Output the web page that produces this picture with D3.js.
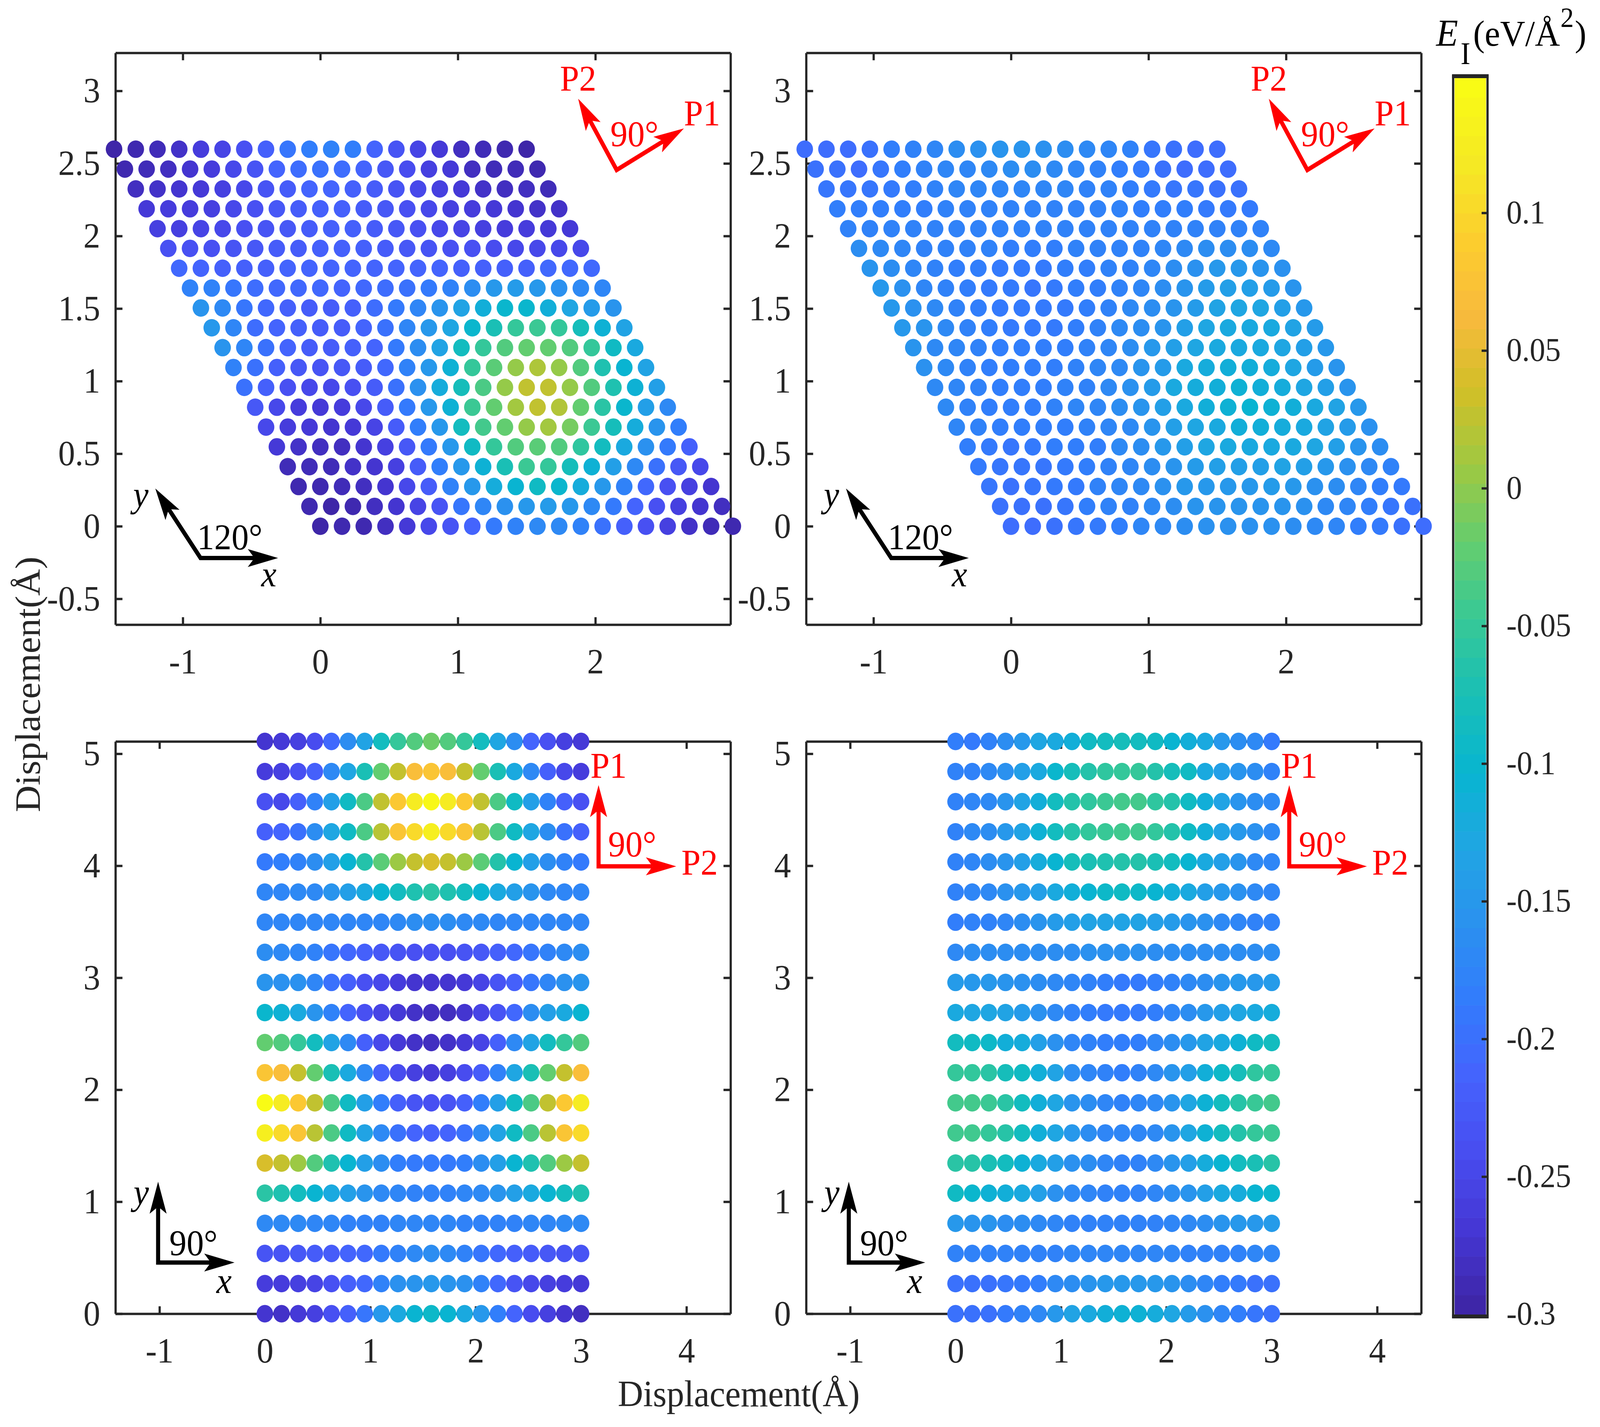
<!DOCTYPE html>
<html>
<head>
<meta charset="utf-8">
<script src="https://cdn.jsdelivr.net/npm/d3@7"></script>
<style>
html, body { margin: 0; padding: 0; background: #fff; overflow: hidden; }
text { font-family: "Liberation Serif", serif; }
</style>
</head>
<body>
<div id="chart"></div>
<script>
// displacement steps along the lattice, same for all panels
var steps = [0,0.158,0.316,0.474,0.632,0.789,0.947,1.105,1.263,1.421,1.579,1.737,1.895,2.053,2.211,2.368,2.526,2.684,2.842,3];
var rectRows = [0,0.269,0.538,0.807,1.076,1.345,1.614,1.883,2.152,2.421,2.689,2.958,3.227,3.496,3.765,4.034,4.303,4.572,4.841,5.11];

var skewYTicks = [-0.5,0,0.5,1,1.5,2,2.5,3];
var skewXTicks = [-1,0,1,2];
var rectYTicks = [0,1,2,3,4,5];
var rectXTicks = [-1,0,1,2,3,4];
var barTicks = [-0.3,-0.25,-0.2,-0.15,-0.1,-0.05,0,0.05,0.1];

// parula stops, low to high
var parulaStops = ["#3e26a8","#4537d5","#484df0","#4563fd","#327cfc","#2b91ef","#20a5e3","#08b5d0","#19bfb6","#37c897","#63cd6f","#9dc943","#d1bf27","#f8ba3d","#fcce2e","#f5e924","#f9fb15"];

// E_I values, top row first, left to right
var energyTL = [
[-.30,-.295,-.29,-.28,-.265,-.255,-.24,-.22,-.195,-.185,-.18,-.185,-.215,-.235,-.255,-.27,-.285,-.29,-.295,-.30],
[-.295,-.29,-.285,-.275,-.265,-.25,-.235,-.215,-.205,-.2,-.205,-.215,-.23,-.245,-.26,-.27,-.285,-.29,-.29,-.295],
[-.285,-.28,-.275,-.27,-.26,-.25,-.235,-.225,-.215,-.215,-.22,-.225,-.235,-.25,-.26,-.27,-.28,-.285,-.285,-.29],
[-.27,-.265,-.265,-.26,-.25,-.24,-.23,-.225,-.22,-.22,-.225,-.23,-.24,-.25,-.26,-.265,-.27,-.275,-.28,-.28],
[-.26,-.26,-.255,-.25,-.24,-.235,-.23,-.225,-.22,-.22,-.225,-.23,-.24,-.25,-.255,-.26,-.265,-.265,-.27,-.27],
[-.24,-.24,-.24,-.235,-.23,-.225,-.225,-.22,-.22,-.22,-.225,-.23,-.235,-.24,-.24,-.245,-.25,-.25,-.25,-.25],
[-.21,-.215,-.22,-.22,-.22,-.215,-.215,-.215,-.215,-.215,-.215,-.215,-.215,-.22,-.22,-.22,-.22,-.21,-.21,-.21],
[-.18,-.18,-.195,-.205,-.21,-.21,-.21,-.215,-.21,-.205,-.2,-.19,-.18,-.165,-.15,-.145,-.15,-.16,-.17,-.175],
[-.155,-.17,-.195,-.21,-.22,-.225,-.225,-.22,-.205,-.19,-.175,-.155,-.135,-.115,-.1,-.1,-.115,-.13,-.145,-.155],
[-.15,-.175,-.205,-.215,-.22,-.225,-.225,-.215,-.2,-.175,-.15,-.13,-.1,-.075,-.05,-.045,-.05,-.08,-.11,-.135],
[-.155,-.175,-.2,-.215,-.225,-.225,-.22,-.215,-.19,-.165,-.135,-.085,-.05,-.03,-.02,-.02,-.03,-.05,-.09,-.125],
[-.18,-.2,-.22,-.23,-.235,-.23,-.225,-.21,-.18,-.15,-.11,-.05,-.025,.005,.018,.005,-.03,-.07,-.105,-.135],
[-.2,-.22,-.24,-.25,-.25,-.24,-.225,-.2,-.16,-.12,-.08,-.035,.005,.028,.028,.005,-.03,-.07,-.11,-.14],
[-.23,-.25,-.265,-.27,-.265,-.25,-.225,-.19,-.15,-.11,-.045,-.02,.012,.028,.02,-.02,-.06,-.1,-.14,-.17],
[-.25,-.265,-.27,-.275,-.27,-.255,-.225,-.185,-.15,-.085,-.04,-.02,.005,.012,-.01,-.045,-.08,-.12,-.155,-.185],
[-.27,-.28,-.285,-.285,-.275,-.26,-.23,-.19,-.15,-.09,-.05,-.03,-.025,-.03,-.055,-.085,-.125,-.16,-.19,-.22],
[-.29,-.29,-.29,-.28,-.275,-.26,-.225,-.185,-.15,-.11,-.075,-.045,-.05,-.08,-.11,-.14,-.17,-.2,-.23,-.25],
[-.295,-.295,-.29,-.285,-.275,-.25,-.225,-.18,-.15,-.12,-.105,-.09,-.1,-.12,-.15,-.18,-.21,-.24,-.26,-.275],
[-.295,-.3,-.295,-.285,-.275,-.255,-.235,-.195,-.175,-.16,-.15,-.145,-.15,-.17,-.19,-.215,-.24,-.26,-.275,-.285],
[-.30,-.295,-.295,-.285,-.27,-.25,-.235,-.215,-.19,-.18,-.17,-.17,-.18,-.2,-.22,-.24,-.26,-.28,-.29,-.295]
];
var energyTR = [
[-.205,-.205,-.205,-.2,-.185,-.18,-.175,-.165,-.16,-.155,-.155,-.16,-.165,-.17,-.175,-.18,-.195,-.2,-.205,-.205],
[-.2,-.2,-.205,-.195,-.185,-.18,-.175,-.175,-.17,-.165,-.165,-.17,-.175,-.18,-.185,-.19,-.2,-.205,-.205,-.205],
[-.195,-.195,-.195,-.19,-.185,-.18,-.175,-.175,-.175,-.175,-.175,-.175,-.18,-.18,-.185,-.19,-.195,-.195,-.2,-.2],
[-.185,-.185,-.185,-.185,-.185,-.18,-.18,-.18,-.18,-.18,-.18,-.18,-.18,-.18,-.185,-.185,-.185,-.19,-.19,-.19],
[-.18,-.18,-.18,-.18,-.18,-.18,-.18,-.18,-.18,-.18,-.18,-.18,-.18,-.18,-.18,-.18,-.18,-.18,-.18,-.18],
[-.165,-.17,-.175,-.18,-.18,-.18,-.18,-.185,-.185,-.185,-.18,-.18,-.18,-.18,-.175,-.17,-.165,-.165,-.165,-.17],
[-.155,-.165,-.175,-.18,-.185,-.185,-.19,-.19,-.19,-.185,-.185,-.18,-.18,-.175,-.165,-.16,-.15,-.15,-.155,-.16],
[-.15,-.16,-.175,-.18,-.185,-.19,-.19,-.195,-.19,-.185,-.185,-.18,-.175,-.165,-.155,-.145,-.14,-.14,-.145,-.155],
[-.15,-.16,-.17,-.18,-.185,-.19,-.19,-.19,-.19,-.185,-.18,-.17,-.165,-.155,-.145,-.135,-.13,-.13,-.14,-.15],
[-.15,-.155,-.17,-.18,-.185,-.19,-.19,-.19,-.185,-.18,-.17,-.165,-.155,-.14,-.13,-.125,-.125,-.125,-.135,-.145],
[-.155,-.17,-.175,-.18,-.185,-.185,-.185,-.185,-.18,-.175,-.165,-.15,-.14,-.13,-.125,-.125,-.125,-.13,-.14,-.15],
[-.16,-.17,-.18,-.185,-.185,-.185,-.185,-.18,-.175,-.17,-.155,-.145,-.125,-.12,-.115,-.115,-.12,-.13,-.145,-.155],
[-.17,-.175,-.18,-.185,-.185,-.185,-.18,-.18,-.17,-.16,-.145,-.125,-.12,-.115,-.11,-.115,-.12,-.13,-.14,-.155],
[-.17,-.18,-.185,-.185,-.185,-.18,-.175,-.175,-.165,-.155,-.14,-.125,-.115,-.11,-.105,-.11,-.115,-.125,-.135,-.15],
[-.175,-.18,-.185,-.185,-.185,-.185,-.18,-.175,-.17,-.155,-.14,-.13,-.125,-.115,-.115,-.12,-.125,-.135,-.145,-.16],
[-.185,-.19,-.195,-.19,-.185,-.185,-.185,-.17,-.165,-.15,-.14,-.13,-.125,-.125,-.125,-.125,-.13,-.14,-.155,-.165],
[-.19,-.195,-.195,-.195,-.19,-.185,-.18,-.175,-.165,-.155,-.145,-.14,-.14,-.14,-.135,-.14,-.15,-.16,-.17,-.18],
[-.195,-.2,-.195,-.19,-.19,-.18,-.175,-.17,-.16,-.15,-.15,-.15,-.15,-.145,-.15,-.16,-.165,-.175,-.185,-.19],
[-.2,-.2,-.2,-.195,-.185,-.18,-.18,-.17,-.165,-.155,-.155,-.155,-.155,-.155,-.16,-.17,-.175,-.185,-.195,-.2],
[-.205,-.205,-.2,-.195,-.19,-.185,-.175,-.17,-.165,-.16,-.16,-.16,-.16,-.165,-.17,-.175,-.185,-.19,-.2,-.205]
];
var energyBL = [
[-.275,-.27,-.26,-.245,-.21,-.165,-.135,-.085,-.05,-.03,-.015,-.03,-.05,-.085,-.13,-.165,-.215,-.24,-.26,-.27],
[-.265,-.26,-.24,-.22,-.17,-.13,-.075,-.02,.03,.07,.08,.07,.03,-.02,-.075,-.125,-.17,-.22,-.25,-.265],
[-.24,-.25,-.22,-.18,-.14,-.09,-.035,.028,.085,.125,.145,.125,.085,.028,-.035,-.09,-.14,-.18,-.22,-.24],
[-.22,-.215,-.2,-.165,-.13,-.09,-.035,.024,.08,.105,.13,.105,.08,.024,-.035,-.09,-.13,-.165,-.2,-.22],
[-.19,-.185,-.18,-.165,-.14,-.105,-.065,-.025,.008,.03,.042,.03,.008,-.025,-.065,-.105,-.14,-.165,-.18,-.19],
[-.175,-.175,-.17,-.17,-.155,-.14,-.125,-.105,-.085,-.07,-.06,-.07,-.085,-.105,-.125,-.14,-.155,-.17,-.175,-.175],
[-.175,-.175,-.175,-.175,-.175,-.175,-.175,-.175,-.17,-.165,-.165,-.165,-.17,-.17,-.175,-.175,-.175,-.175,-.175,-.175],
[-.165,-.17,-.175,-.18,-.195,-.21,-.22,-.23,-.235,-.24,-.24,-.24,-.235,-.23,-.22,-.21,-.195,-.18,-.17,-.165],
[-.155,-.16,-.16,-.175,-.2,-.22,-.24,-.25,-.265,-.275,-.275,-.275,-.27,-.255,-.235,-.22,-.195,-.175,-.16,-.155],
[-.1,-.11,-.125,-.155,-.18,-.215,-.24,-.255,-.27,-.28,-.285,-.285,-.275,-.255,-.235,-.21,-.165,-.14,-.125,-.105],
[-.02,-.03,-.05,-.085,-.135,-.17,-.22,-.25,-.27,-.28,-.285,-.28,-.27,-.255,-.22,-.17,-.135,-.085,-.05,-.03],
[.08,.07,.03,-.02,-.075,-.125,-.17,-.22,-.245,-.26,-.27,-.26,-.245,-.225,-.18,-.13,-.075,-.02,.03,.07],
[.149,.125,.085,.028,-.035,-.09,-.14,-.185,-.22,-.235,-.24,-.235,-.22,-.185,-.14,-.09,-.035,.028,.085,.125],
[.13,.105,.08,.024,-.035,-.09,-.135,-.17,-.2,-.215,-.22,-.215,-.2,-.17,-.135,-.09,-.035,.024,.08,.105],
[.042,.03,.008,-.03,-.07,-.105,-.14,-.165,-.185,-.19,-.19,-.19,-.185,-.165,-.14,-.105,-.07,-.03,.008,.03],
[-.06,-.07,-.085,-.105,-.125,-.14,-.155,-.17,-.175,-.18,-.18,-.18,-.175,-.17,-.155,-.14,-.125,-.105,-.085,-.07],
[-.17,-.17,-.17,-.175,-.175,-.18,-.18,-.18,-.175,-.175,-.175,-.175,-.18,-.18,-.18,-.18,-.175,-.175,-.17,-.17],
[-.235,-.235,-.23,-.225,-.225,-.215,-.21,-.19,-.18,-.17,-.165,-.17,-.18,-.195,-.21,-.22,-.225,-.23,-.235,-.235],
[-.265,-.265,-.26,-.255,-.24,-.22,-.21,-.18,-.16,-.155,-.15,-.155,-.16,-.18,-.21,-.235,-.25,-.26,-.265,-.27],
[-.275,-.28,-.27,-.26,-.24,-.22,-.195,-.15,-.125,-.105,-.095,-.105,-.125,-.15,-.185,-.215,-.245,-.26,-.275,-.285]
];
var energyBR = [
[-.185,-.19,-.18,-.165,-.15,-.13,-.125,-.115,-.09,-.085,-.08,-.085,-.09,-.105,-.115,-.125,-.15,-.165,-.17,-.19],
[-.18,-.18,-.17,-.16,-.14,-.125,-.1,-.08,-.065,-.055,-.05,-.05,-.065,-.08,-.09,-.125,-.14,-.155,-.165,-.18],
[-.18,-.175,-.17,-.155,-.135,-.115,-.085,-.065,-.055,-.045,-.04,-.04,-.055,-.065,-.09,-.115,-.135,-.155,-.165,-.17],
[-.18,-.17,-.165,-.15,-.135,-.11,-.085,-.065,-.052,-.047,-.042,-.042,-.052,-.065,-.09,-.115,-.135,-.15,-.16,-.17],
[-.18,-.175,-.165,-.155,-.14,-.12,-.105,-.08,-.075,-.07,-.065,-.065,-.075,-.085,-.105,-.125,-.14,-.155,-.17,-.175],
[-.18,-.175,-.17,-.16,-.15,-.14,-.125,-.115,-.105,-.095,-.09,-.095,-.105,-.115,-.125,-.14,-.15,-.16,-.17,-.175],
[-.185,-.18,-.18,-.175,-.165,-.155,-.145,-.14,-.135,-.135,-.135,-.135,-.14,-.145,-.155,-.16,-.17,-.175,-.18,-.18],
[-.17,-.165,-.165,-.165,-.165,-.165,-.165,-.165,-.16,-.16,-.16,-.16,-.165,-.165,-.165,-.165,-.165,-.165,-.165,-.165],
[-.145,-.15,-.15,-.155,-.16,-.165,-.17,-.175,-.18,-.185,-.19,-.19,-.185,-.18,-.17,-.165,-.155,-.15,-.15,-.145],
[-.125,-.13,-.13,-.135,-.145,-.16,-.17,-.18,-.185,-.19,-.19,-.19,-.185,-.175,-.165,-.15,-.14,-.13,-.125,-.12],
[-.085,-.09,-.095,-.115,-.12,-.14,-.16,-.175,-.18,-.185,-.185,-.185,-.175,-.165,-.15,-.135,-.125,-.11,-.09,-.085],
[-.05,-.052,-.06,-.08,-.09,-.115,-.135,-.165,-.175,-.18,-.185,-.18,-.17,-.155,-.14,-.115,-.095,-.08,-.055,-.05],
[-.04,-.04,-.045,-.06,-.085,-.115,-.13,-.155,-.165,-.175,-.18,-.175,-.17,-.155,-.13,-.11,-.085,-.062,-.047,-.04],
[-.042,-.042,-.05,-.062,-.085,-.115,-.13,-.15,-.165,-.175,-.175,-.175,-.17,-.155,-.13,-.11,-.085,-.065,-.05,-.045],
[-.06,-.062,-.075,-.085,-.11,-.125,-.14,-.16,-.165,-.175,-.18,-.18,-.17,-.155,-.14,-.12,-.105,-.085,-.075,-.062],
[-.09,-.1,-.11,-.115,-.125,-.14,-.16,-.17,-.175,-.18,-.18,-.18,-.175,-.165,-.155,-.14,-.125,-.12,-.105,-.1],
[-.15,-.155,-.155,-.165,-.165,-.17,-.175,-.18,-.18,-.18,-.18,-.18,-.18,-.175,-.17,-.165,-.155,-.15,-.15,-.145],
[-.18,-.18,-.18,-.18,-.18,-.18,-.18,-.175,-.175,-.175,-.175,-.175,-.175,-.175,-.18,-.18,-.18,-.18,-.175,-.175],
[-.2,-.2,-.2,-.195,-.19,-.185,-.17,-.165,-.155,-.15,-.15,-.15,-.15,-.155,-.165,-.175,-.185,-.19,-.2,-.2],
[-.2,-.2,-.2,-.19,-.18,-.17,-.15,-.135,-.125,-.115,-.11,-.11,-.12,-.13,-.145,-.16,-.175,-.185,-.195,-.2]
];

var W = 4325, H = 3653, ink = "#262626", dotR = 22.4, tickFont = 91;

var colorDomain = [-0.3, 0.149];
var color = d3.scaleLinear()
    .domain(parulaStops.map(function(d, i) { return colorDomain[0] + (colorDomain[1] - colorDomain[0]) * i / (parulaStops.length - 1); }))
    .range(parulaStops);

// the browser window can come out narrower than asked, so fill it whatever it is
var svg = d3.select("#chart").append("svg")
    .attr("viewBox", "0 0 " + W + " " + H)
    .attr("preserveAspectRatio", "none")
    .style("width", "100vw").style("height", "100vh")
    .style("display", "block");

// plain hyphen in the labels, d3.format gives a long minus
function plainNum(d) { return String(d); }

// skewed cell, lattice vectors 120 degrees apart
var skewGeom = {
    xDomain: [-1.49, 2.983], yDomain: [-0.678, 3.262],
    xTicks: skewXTicks, yTicks: skewYTicks,
    point: function(a, b) {
        return [a + b * Math.cos(2 * Math.PI / 3), b * Math.sin(2 * Math.PI / 3)];
    },
    rows: steps,
    black: { origin: [-0.871, -0.219], tips: [[-1.2, 0.26], [-0.307, -0.219]] },
    red: { origin: [2.155, 2.455], tips: [[1.875, 2.946], [2.644, 2.741]] },
    labels: [
        { t: "y", x: -1.361, y: 0.135, fill: "#000", italic: true },
        { t: "x", x: -0.43, y: -0.415, fill: "#000", italic: true },
        { t: "120°", x: -0.896, y: -0.158, fill: "#000" },
        { t: "P2", x: 1.743, y: 3.003, fill: "#f00" },
        { t: "P1", x: 2.644, y: 2.763, fill: "#f00" },
        { t: "90°", x: 2.109, y: 2.62, fill: "#f00" }
    ]
};
// rectangular cell
var rectGeom = {
    xDomain: [-1.418, 4.418], yDomain: [0, 5.11],
    xTicks: rectXTicks, yTicks: rectYTicks,
    point: function(a, b) { return [a, b]; },
    rows: rectRows,
    black: { origin: [-1.013, 0.457], tips: [[-1.013, 1.179], [-0.288, 0.457]] },
    red: { origin: [3.166, 3.995], tips: [[3.166, 4.72], [3.903, 3.995]] },
    labels: [
        { t: "y", x: -1.246, y: 0.977, fill: "#000", italic: true },
        { t: "x", x: -0.46, y: 0.185, fill: "#000", italic: true },
        { t: "90°", x: -0.906, y: 0.523, fill: "#000" },
        { t: "P1", x: 3.089, y: 4.784, fill: "#f00" },
        { t: "P2", x: 3.952, y: 3.922, fill: "#f00" },
        { t: "90°", x: 3.257, y: 4.086, fill: "#f00" }
    ]
};

var panels = [
    { geom: skewGeom, values: energyTL, left: 312, right: 1974.7, top: 135.3, bottom: 1599 },
    { geom: skewGeom, values: energyTR, left: 2179, right: 3841.7, top: 135.3, bottom: 1599 },
    { geom: rectGeom, values: energyBL, left: 312, right: 1974.7, top: 1898, bottom: 3363 },
    { geom: rectGeom, values: energyBR, left: 2179, right: 3841.7, top: 1898, bottom: 3363 }
];

function styleAxis(sel) {
    sel.select(".domain").attr("stroke", ink).attr("stroke-width", 6).attr("fill", "none");
    sel.selectAll(".tick line").attr("stroke", ink).attr("stroke-width", 6);
    sel.selectAll(".tick text").attr("fill", ink).style("font-size", tickFont + "px")
        .style("font-family", '"Liberation Serif", serif');
}

function drawArrows(g, spec, x, y, col) {
    var o = [x(spec.origin[0]), y(spec.origin[1])];
    var a = [x(spec.tips[0][0]), y(spec.tips[0][1])];
    var b = [x(spec.tips[1][0]), y(spec.tips[1][1])];
    function notch(t) {
        var dx = t[0] - o[0], dy = t[1] - o[1], len = Math.sqrt(dx * dx + dy * dy);
        return [t[0] - dx / len * 64, t[1] - dy / len * 64];
    }
    g.append("path")
        .attr("d", d3.line()([notch(a), o, notch(b)]))
        .attr("fill", "none").attr("stroke", col).attr("stroke-width", 11)
        .attr("stroke-linejoin", "miter");
    [a, b].forEach(function(t) {
        var dx = t[0] - o[0], dy = t[1] - o[1], len = Math.sqrt(dx * dx + dy * dy);
        var ux = dx / len, uy = dy / len;
        var pts = [t,
            [t[0] - ux * 82 - uy * 23, t[1] - uy * 82 + ux * 23],
            [t[0] - ux * 64, t[1] - uy * 64],
            [t[0] - ux * 82 + uy * 23, t[1] - uy * 82 - ux * 23]];
        g.append("path").attr("d", d3.line()(pts) + "Z").attr("fill", col);
    });
}

panels.forEach(function(p) {
    var geom = p.geom;
    var x = d3.scaleLinear().domain(geom.xDomain).range([p.left, p.right]);
    var y = d3.scaleLinear().domain(geom.yDomain).range([p.bottom, p.top]);
    var g = svg.append("g");

    g.append("g").attr("transform", "translate(0," + p.bottom + ")")
        .call(d3.axisBottom(x).tickValues(geom.xTicks).tickSizeInner(-19).tickSizeOuter(0).tickPadding(60).tickFormat(plainNum))
        .call(styleAxis);
    g.append("g").attr("transform", "translate(0," + p.top + ")")
        .call(d3.axisTop(x).tickValues(geom.xTicks).tickSizeInner(-19).tickSizeOuter(0).tickFormat(""))
        .call(styleAxis);
    g.append("g").attr("transform", "translate(" + p.left + ",0)")
        .call(d3.axisLeft(y).tickValues(geom.yTicks).tickSizeInner(-19).tickSizeOuter(0).tickPadding(41).tickFormat(plainNum))
        .call(styleAxis);
    g.append("g").attr("transform", "translate(" + p.right + ",0)")
        .call(d3.axisRight(y).tickValues(geom.yTicks).tickSizeInner(-19).tickSizeOuter(0).tickFormat(""))
        .call(styleAxis);

    // one circle per grid point, top row first in the arrays
    var cells = [];
    p.values.forEach(function(row, r) {
        row.forEach(function(v, c) {
            var pt = geom.point(steps[c], geom.rows[p.values.length - 1 - r]);
            cells.push({ px: pt[0], py: pt[1], v: v });
        });
    });
    g.selectAll("circle").data(cells).enter().append("circle")
        .attr("cx", function(d) { return x(d.px); })
        .attr("cy", function(d) { return y(d.py); })
        .attr("r", dotR)
        .attr("fill", function(d) { return color(d.v); });

    drawArrows(g, geom.black, x, y, "#000");
    drawArrows(g, geom.red, x, y, "#f00");

    g.selectAll("text.note").data(geom.labels).enter().append("text")
        .attr("class", "note")
        .attr("x", function(d) { return x(d.x); })
        .attr("y", function(d) { return y(d.y); })
        .attr("fill", function(d) { return d.fill; })
        .style("font-size", "93px")
        .style("font-style", function(d) { return d.italic ? "italic" : "normal"; })
        .text(function(d) { return d.t; });
});

// axis titles
svg.append("text")
    .attr("transform", "translate(108,1752) rotate(-90)")
    .attr("text-anchor", "middle").attr("fill", ink)
    .style("font-size", "95px").text("Displacement(Å)");
svg.append("text")
    .attr("x", 1997).attr("y", 3600)
    .attr("text-anchor", "middle").attr("fill", ink)
    .style("font-size", "95px").text("Displacement(Å)");

// colour bar
var barY = d3.scaleLinear().domain(colorDomain).range([3364.5, 199.5]);
var bandVals = d3.range(64).map(function(i) { return colorDomain[0] + (colorDomain[1] - colorDomain[0]) * i / 63; });
var bandH = (barY(colorDomain[0]) - barY(colorDomain[1])) / 64;
svg.append("g").selectAll("rect").data(bandVals).enter().append("rect")
    .attr("x", 3932).attr("width", 85)
    .attr("y", function(d, i) { return barY(colorDomain[1]) + (63 - i) * bandH; })
    .attr("height", bandH + 0.6)
    .attr("fill", function(d) { return color(d); });
svg.append("rect").attr("x", 3928).attr("y", 195).attr("width", 93).attr("height", 3175)
    .attr("fill", "none").attr("stroke", ink).attr("stroke-width", 6);
svg.append("rect").attr("x", 3925).attr("y", 190).attr("width", 99).attr("height", 10).attr("fill", ink);
svg.append("rect").attr("x", 3925).attr("y", 3365).attr("width", 99).attr("height", 10).attr("fill", ink);
svg.append("g").attr("transform", "translate(4021,0)")
    .call(d3.axisLeft(barY).tickValues(barTicks.slice(1)).tickSizeInner(16).tickSizeOuter(0).tickFormat(""))
    .call(function(s) {
        s.select(".domain").remove();
        s.selectAll(".tick line").attr("stroke", ink).attr("stroke-width", 6);
    });
svg.append("g").selectAll("text").data(barTicks).enter().append("text")
    .attr("x", 4072)
    .attr("y", function(d) { return barY(d) + 27; })
    .attr("fill", ink)
    .style("font-size", "84px")
    .text(plainNum);

// colour bar title
var title = svg.append("g").attr("fill", "#000");
title.append("text").attr("x", 3882).attr("y", 117).style("font-size", "97px").style("font-style", "italic").text("E");
title.append("text").attr("x", 3948).attr("y", 164).style("font-size", "80px").text("I");
title.append("text").attr("x", 3982).attr("y", 117).style("font-size", "94px").text("(eV/Å");
title.append("text").attr("x", 4218).attr("y", 69).style("font-size", "72px").text("2");
title.append("text").attr("x", 4257).attr("y", 117).style("font-size", "94px").text(")");
</script>
</body>
</html>
